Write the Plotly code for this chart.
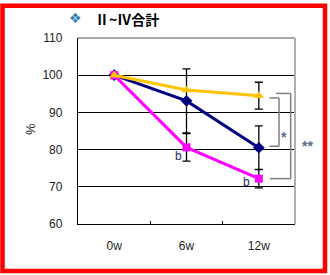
import plotly.graph_objects as go

weeks = ["0w", "6w", "12w"]
yellow = [100, 96.0, 94.5]
yellow_err = [None, None, 3.6]
blue = [100, 93.1, 80.5]
blue_err = [None, 8.6, 5.9]
pink = [100, 80.6, 72.2]
pink_err = [None, 3.7, 2.5]
y_ticks = [60, 70, 80, 90, 100, 110]
title_text = "Ⅱ~Ⅳ合計"

W, H = 330, 275
L, R, T, B = 78, 35, 38, 51
PW, PH = W - L - R, H - T - B

def px(x):
    return (x - L) / PW

def py(y):
    return (H - B - y) / PH

fig = go.Figure()

def add_series(vals, errs, color, symbol, msize):
    fig.add_trace(go.Scatter(
        x=weeks, y=vals, mode="lines+markers",
        line=dict(color=color, width=3),
        marker=dict(color=color, symbol=symbol, size=msize),
        error_y=dict(type="data", array=errs, visible=True, color="black",
                     thickness=1.3, width=4),
        showlegend=False, cliponaxis=False,
    ))

add_series(blue, blue_err, "#000080", "diamond", 9)
add_series(pink, pink_err, "#FF00FF", "square", 8)
add_series(yellow, yellow_err, "#FFC400", "triangle-up", 9)

shapes = []
# plot area gray border (top/right)
shapes.append(dict(type="line", xref="paper", yref="paper", x0=0, x1=1, y0=1, y1=1,
                   line=dict(color="#A8A8A8", width=1.8), layer="above"))
shapes.append(dict(type="line", xref="paper", yref="paper", x0=1, x1=1, y0=0, y1=1,
                   line=dict(color="#B0B0B0", width=2), layer="above"))
# outer red frame
shapes.append(dict(type="rect", xref="paper", yref="paper",
                   x0=px(2.5), x1=px(325), y0=py(5.7), y1=py(271),
                   line=dict(color="#FF0000", width=4.5)))
# brackets
gray = "#7F7F7F"
def bracket(xl_top, xl_bot, xr, ytop, ybot):
    for (a, b, c, d) in [(xl_top, ytop, xr, ytop), (xr, ytop, xr, ybot), (xl_bot, ybot, xr, ybot)]:
        shapes.append(dict(type="line", xref="paper", yref="y", x0=a, x1=c, y0=b, y1=d,
                           line=dict(color=gray, width=1.5)))

bracket(px(269.3), px(269.3), px(279), yellow[2] - 0.6, blue[2] + 0.4)
bracket(px(276), px(270), px(290.7), yellow[2] + 0.6, pink[2])

annotations = [
    dict(xref="paper", yref="paper", x=px(75.5), y=py(18), text="❖", showarrow=False,
         font=dict(family="DejaVu Sans", size=14, color="#2E7FB0"), xanchor="center", yanchor="middle"),
    dict(xref="paper", yref="paper", x=px(93), y=py(18.5), text="<b>" + title_text + "</b>", showarrow=False,
         font=dict(family="Noto Sans CJK JP", size=14, color="#000000"), xanchor="left", yanchor="middle"),
    dict(xref="paper", yref="paper", x=px(30), y=py(129), text="%", showarrow=False, textangle=-90,
         font=dict(family="Liberation Sans", size=13, color="#222222"), xanchor="center", yanchor="middle"),
    dict(xref="x", yref="y", x=weeks[1], y=pink[1], xshift=-8, yshift=-8.5, text="b", showarrow=False,
         font=dict(family="Liberation Sans", size=12, color="#1F2A60"), xanchor="center", yanchor="middle"),
    dict(xref="x", yref="y", x=weeks[2], y=pink[2], xshift=-12.5, yshift=-3.5, text="b", showarrow=False,
         font=dict(family="Liberation Sans", size=12, color="#1F2A60"), xanchor="center", yanchor="middle"),
    dict(xref="paper", yref="y", x=px(284.3), y=(yellow[2] + blue[2]) / 2 - 4, text="<b>*</b>", showarrow=False,
         font=dict(family="Liberation Sans", size=14, color="#5A6B80"), xanchor="center", yanchor="middle"),
    dict(xref="paper", yref="y", x=px(307.3), y=(yellow[2] + pink[2]) / 2 - 2.5, text="<b>**</b>", showarrow=False,
         font=dict(family="Liberation Sans", size=14, color="#5A6B80"), xanchor="center", yanchor="middle"),
]

fig.update_layout(
    width=W, height=H,
    margin=dict(l=L, r=R, t=T, b=B, pad=0),
    paper_bgcolor="white", plot_bgcolor="white",
    shapes=shapes, annotations=annotations,
    xaxis=dict(type="category", range=[-0.5, 2.5], showgrid=False, zeroline=False,
               showline=True, linecolor="black", linewidth=1.3,
               ticks="inside", ticklen=3, tickcolor="black", tickson="boundaries",
               tickfont=dict(family="Liberation Sans", size=12, color="#222222"),
               ticklabelstandoff=10, fixedrange=True),
    yaxis=dict(range=[60, 110], tickvals=y_ticks, showgrid=True, gridcolor="black", gridwidth=1,
               zeroline=False, showline=True, linecolor="black", linewidth=1.3,
               ticks="inside", ticklen=3, tickcolor="black",
               tickfont=dict(family="Liberation Sans", size=12, color="#222222"),
               ticklabelstandoff=12, fixedrange=True),
)

fig.write_html("out.html")
